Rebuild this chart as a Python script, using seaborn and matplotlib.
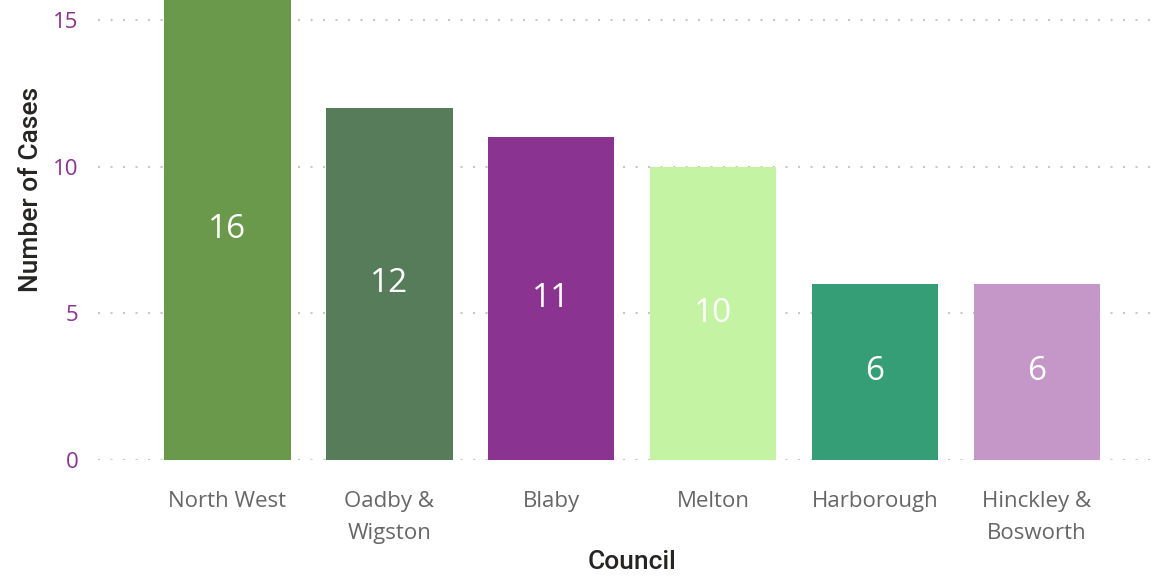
import pandas as pd
import seaborn as sns
import matplotlib.pyplot as plt

# data
councils = ['North West', 'Oadby &\nWigston', 'Blaby', 'Melton', 'Harborough', 'Hinckley &\nBosworth']
cases = [16, 12, 11, 10, 6, 6]
bar_colors = ['#6A994B', '#577C5A', '#8A3391', '#C3F3A3', '#369E77', '#C497C8']
y_ticks = [0, 5, 10, 15]

df = pd.DataFrame({'Council': councils, 'Cases': cases})

sns.set_style('white')
plt.rcParams['font.family'] = ['Open Sans', 'DejaVu Sans']

fig = plt.figure(figsize=(11.65, 5.77), dpi=100)
ax = fig.add_axes([0.0841, 0.2028, 0.9116, 0.7972])

sns.barplot(data=df, x='Council', y='Cases', hue='Council', palette=bar_colors,
            legend=False, width=0.78, saturation=1, linewidth=0, ax=ax)

# value labels in the middle of each bar
for cont in ax.containers:
    ax.bar_label(cont, label_type='center', color='white', fontsize=24)

ax.set_xlim(-0.8, 5.76)
ax.set_ylim(0, 15.68)
ax.set_yticks(y_ticks)

# dotted gridlines
ax.grid(axis='y', color='#C8C8C8', linestyle=(0, (1, 5)), linewidth=1.5)
ax.set_axisbelow(True)
for s in ax.spines.values():
    s.set_visible(False)

ax.tick_params(axis='y', length=0, pad=14, labelsize=16, labelcolor='#8A3391')
ax.tick_params(axis='x', length=0, pad=22, labelsize=16, labelcolor='#666666')
for lbl in ax.get_xticklabels():
    lbl.set_linespacing(1.7)

ax.set_xlabel('Council', fontsize=19, color='#252423', fontweight='medium',
              family=['Roboto', 'DejaVu Sans'])
ax.set_ylabel('Number of Cases', fontsize=19, color='#252423', fontweight='medium',
              family=['Roboto', 'DejaVu Sans'])
ax.xaxis.label.set_va('center')
ax.yaxis.label.set_va('center')
ax.xaxis.set_label_coords(0.503, -0.222)
ax.yaxis.set_label_coords(-0.063, 0.589)

fig.savefig('out.png', dpi=100)
